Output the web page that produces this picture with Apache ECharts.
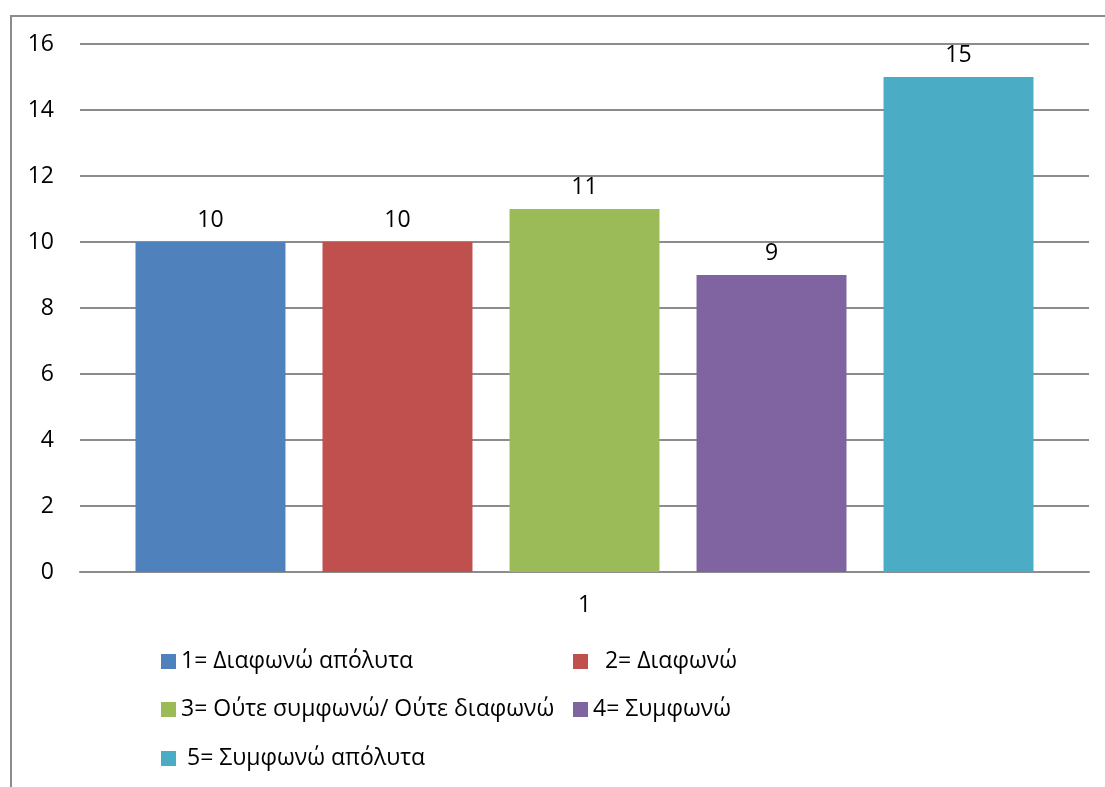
<!DOCTYPE html>
<html>
<head>
<meta charset="utf-8">
<script src="https://cdn.jsdelivr.net/npm/echarts@6/dist/echarts.min.js"></script>
<style>
  html, body { margin: 0; padding: 0; background: #fff; }
  #frame { position: absolute; left: 10px; top: 15px; width: 1200px; height: 900px; border-left: 2px solid #8c8c8c; border-top: 2px solid #8c8c8c; }
  #main { position: absolute; left: 0; top: 0; width: 1105px; height: 787px; }
</style>
</head>
<body>
<div id="frame"></div>
<div id="main"></div>
<script>
const categories = ['1']
const seriesNames = ['1= Διαφωνώ απόλυτα', '2= Διαφωνώ', '3= Ούτε συμφωνώ/ Ούτε διαφωνώ', '4= Συμφωνώ', '5= Συμφωνώ απόλυτα']
const seriesValues = [10, 10, 11, 9, 15]
const seriesColors = ['#4f81bd', '#c0504d', '#9bbb59', '#8064a2', '#4bacc6']
const yTicks = [0, 2, 4, 6, 8, 10, 12, 14, 16]

const font = '"Open Sans", sans-serif'
const fs = 23
const myChart = echarts.init(document.getElementById('main'))

// legend layout like the original (two columns, three rows)
const legendPos = [
    { left: 161, top: 650, pad: '' },
    { left: 573, top: 650, pad: '  ' },
    { left: 161, top: 698, pad: '' },
    { left: 573, top: 698, pad: '' },
    { left: 161, top: 747, pad: ' ' }
]

const option = {
    animation: false,
    grid: { left: 80, right: 16, top: 44, bottom: 215, containLabel: false },
    xAxis: {
        type: 'category',
        data: categories,
        axisLine: { lineStyle: { color: '#8c8c8c', width: 2 } },
        axisTick: { show: false },
        axisLabel: { color: '#000', fontSize: fs, fontFamily: font, margin: 22 }
    },
    yAxis: {
        type: 'value',
        min: 0,
        max: yTicks[yTicks.length - 1],
        interval: 2,
        axisLine: { show: false },
        axisTick: { show: false },
        axisLabel: { color: '#000', fontSize: fs, fontFamily: font, margin: 26 },
        splitLine: { lineStyle: { color: '#8c8c8c', width: 2 } }
    },
    legend: seriesNames.map((name, i) => ({
        data: [name],
        left: legendPos[i].left,
        top: legendPos[i].top,
        padding: 0,
        itemWidth: 15,
        itemHeight: 15,
        itemGap: 7,
        icon: 'rect',
        formatter: n => legendPos[i].pad + n,
        textStyle: { color: '#000', fontSize: fs, fontFamily: font }
    })),
    series: seriesNames.map((name, i) => ({
        name: name,
        type: 'bar',
        data: [seriesValues[i]],
        barGap: '24.7%',
        barCategoryGap: '11%',
        itemStyle: { color: seriesColors[i] },
        label: {
            show: true,
            position: 'top',
            distance: 10,
            color: '#000',
            fontSize: fs,
            fontFamily: font
        }
    }))
}
myChart.setOption(option)
</script>
</body>
</html>
